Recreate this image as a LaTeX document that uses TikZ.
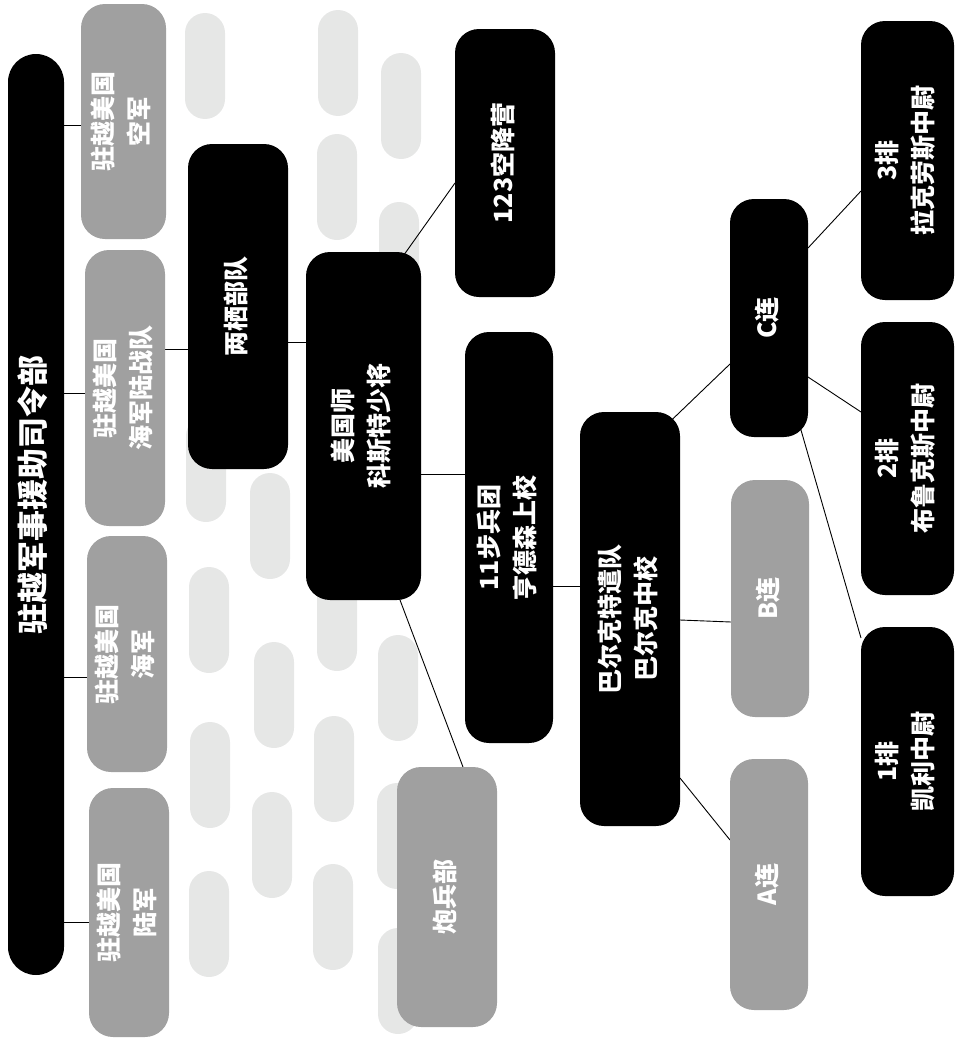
\documentclass[tikz,border=0pt]{standalone}
\usepackage{fontspec}
\setmainfont{Noto Sans CJK SC}
\usepackage{xcolor}
\definecolor{boxgray}{HTML}{A0A0A0}
\definecolor{pillgray}{HTML}{E6E7E6}
\pgfdeclarelayer{background}
\pgfsetlayers{background,main}
\newcommand{\vtxt}[1]{\rotatebox{90}{\begin{tabular}{@{}c@{}}#1\end{tabular}}}

\begin{document}
\begin{tikzpicture}[
    x=1pt, y=-1pt,
    blknode/.style={fill=black, text=white, rounded corners=24pt, inner sep=0pt, outer sep=0pt, font=\bfseries\fontsize{25}{36}\selectfont},
    grynode/.style={blknode, fill=boxgray},
    hqnode/.style={blknode, rounded corners=28pt, font=\bfseries\fontsize{31}{36}\selectfont},
    pill/.style={fill=pillgray, rounded corners=20pt},
    linkline/.style={draw=black, line width=0.9pt}
]
    \useasboundingbox (0,0) rectangle (955,1044);

    % Kommando
    \node[hqnode, minimum width=56pt, minimum height=921pt] (hq) at (36,514.5) {\vtxt{\hspace*{40pt}驻越军事援助司令部}};

    % Teilstreitkraefte
    \node[grynode, minimum width=85pt, minimum height=235pt] (kj)   at (123.5,121.5) {\vtxt{驻越美国\\空军}};
    \node[grynode, minimum width=80pt, minimum height=276pt] (hjld) at (125,388)     {\vtxt{驻越美国\\海军陆战队}};
    \node[grynode, minimum width=80pt, minimum height=236pt] (hj)   at (127,654)     {\vtxt{驻越美国\\海军}};
    \node[grynode, minimum width=80pt, minimum height=249pt] (lj)   at (129,912.5)   {\vtxt{驻越美国\\陆军}};

    % Verbaende
    \node[blknode, minimum width=100pt, minimum height=325pt] (lqbd) at (238,306.5) {\vtxt{两栖部队}};
    \node[blknode, minimum width=115pt, minimum height=348pt] (mgs)  at (363.5,426) {\vtxt{美国师\\科斯特少将}};
    \node[blknode, minimum width=100pt, minimum height=268pt] (kjy)  at (505,163)   {\vtxt{123空降营}};
    \node[blknode, minimum width=88pt,  minimum height=411pt] (bbt)  at (509,537.5) {\vtxt{11步兵团\\亨德森上校}};
    \node[grynode, minimum width=100pt, minimum height=260pt] (pbb)  at (447,897)   {\vtxt{炮兵部}};
    \node[blknode, minimum width=100pt, minimum height=414pt] (bek)  at (630,619)   {\vtxt{巴尔克特遣队\\巴尔克中校}};

    % Kompanien
    \node[blknode, minimum width=78pt, minimum height=238pt] (cl) at (769,318)   {\vtxt{C连}};
    \node[grynode, minimum width=78pt, minimum height=237pt] (bl) at (770,598.5) {\vtxt{B连}};
    \node[grynode, minimum width=78pt, minimum height=251pt] (al) at (769,884.5) {\vtxt{A连}};

    % Zuege
    \node[blknode, minimum width=93pt, minimum height=279pt] (p3) at (907.5,160.5) {\vtxt{3排\\拉克劳斯中尉}};
    \node[blknode, minimum width=93pt, minimum height=273pt] (p2) at (907.5,458.5) {\vtxt{2排\\布鲁克斯中尉}};
    \node[blknode, minimum width=93pt, minimum height=269pt] (p1) at (907.5,761.5) {\vtxt{1排\\凯利中尉}};

    \begin{pgfonlayer}{background}
        % Hintergrund-Pillen
        \foreach \px/\py in {185/13, 318/10, 381/53, 317/134, 379/202, 186/416,
                             250/473, 189/567, 317/565, 254/642, 378/635, 190/722,
                             314/716, 377/783, 252/792, 189/871, 313/864, 378/928}
            \fill[pill] (\px,\py) rectangle ++(40,106);

        % Verbindungen
        \draw[linkline] ([yshift=-3.5pt]kj.west) -| (hq);
        \draw[linkline] ([yshift=-5pt]hjld.west) -| (hq);
        \draw[linkline] ([yshift=-23pt]hj.west) -| (hq);
        \draw[linkline] ([yshift=-9.5pt]lj.west) -| (hq);

        \draw[linkline] ([yshift=39pt]hjld.east) -- ([yshift=-42.5pt]lqbd.west);
        \draw[linkline] ([yshift=-35.5pt]lqbd.east) -- ([yshift=84pt]mgs.west);
        \draw[linkline, shorten <=-12pt] ([xshift=-15pt]mgs.north east) -- ([yshift=-20pt]kjy.west);
        \draw[linkline] ([yshift=-48pt]mgs.east) -- ([yshift=63.5pt]bbt.west);
        \draw[linkline, shorten <=-12pt] ([xshift=-21pt]mgs.south east) -- ([xshift=-34pt]pbb.north east);
        \draw[linkline] ([yshift=-48.5pt]bbt.east) -- ([yshift=33pt]bek.west);

        \draw[linkline, shorten <=-12pt] (bek.north east) -- ([yshift=-46pt]cl.west);
        \draw[linkline] ([yshift=-1pt]bek.east) -- ([yshift=-23.5pt]bl.west);
        \draw[linkline] ([yshift=-159pt]bek.east) -- ([yshift=44.5pt]al.west);

        \draw[linkline] ([yshift=70pt]cl.east) -- ([yshift=-30.5pt]p3.west);
        \draw[linkline] ([yshift=-59pt]cl.east) -- ([yshift=46.5pt]p2.west);
        \draw[linkline, shorten <=-12pt] ([xshift=-5pt]cl.south east) -- ([yshift=123.5pt]p1.west);
    \end{pgfonlayer}
\end{tikzpicture}
\end{document}
